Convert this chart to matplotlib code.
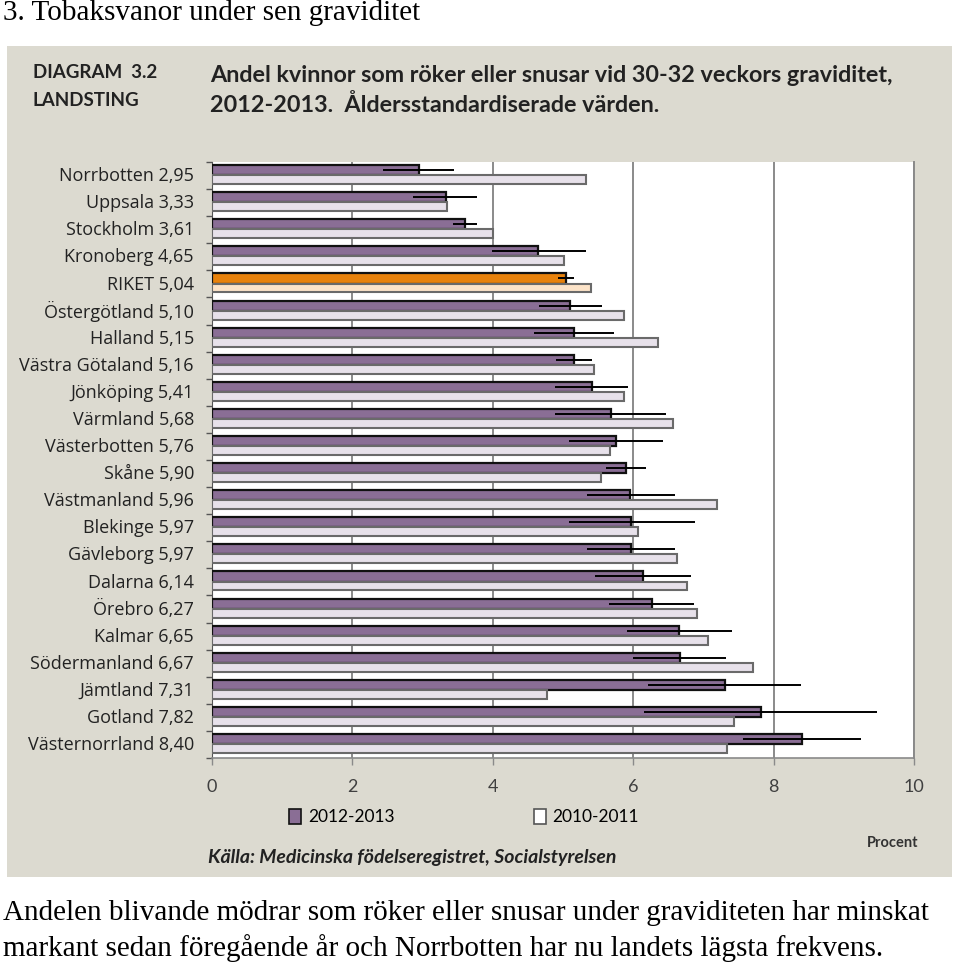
"""
Diagram 3.2 - andel kvinnor som röker eller snusar vid 30-32 veckors graviditet.
Horisontella staplar per landsting, 2012-2013 mot 2010-2011, med konfidensintervall.
"""

import numpy as np
import matplotlib
matplotlib.use("Agg")
import matplotlib.pyplot as plt
from matplotlib.patches import Rectangle, Patch
from matplotlib import font_manager

# --- Data ---
landsting = ["Norrbotten", "Uppsala", "Stockholm", "Kronoberg", "RIKET",
             "Östergötland", "Halland", "Västra Götaland", "Jönköping", "Värmland",
             "Västerbotten", "Skåne", "Västmanland", "Blekinge", "Gävleborg",
             "Dalarna", "Örebro", "Kalmar", "Södermanland", "Jämtland",
             "Gotland", "Västernorrland"]
andel_2012 = [2.95, 3.33, 3.61, 4.65, 5.04, 5.10, 5.15, 5.16, 5.41, 5.68, 5.76,
              5.90, 5.96, 5.97, 5.97, 6.14, 6.27, 6.65, 6.67, 7.31, 7.82, 8.40]
andel_2010 = [5.33, 3.35, 4.00, 5.01, 5.40, 5.87, 6.35, 5.44, 5.87, 6.56, 5.67,
              5.54, 7.19, 6.07, 6.62, 6.77, 6.91, 7.07, 7.71, 4.77, 7.44, 7.34]
ki_lag = [2.44, 2.87, 3.44, 3.99, 4.93, 4.66, 4.59, 4.90, 4.89, 4.89, 5.08,
          5.61, 5.34, 5.08, 5.34, 5.46, 5.66, 5.91, 6.00, 6.21, 6.15, 7.56]
ki_hog = [3.45, 3.78, 3.78, 5.33, 5.16, 5.55, 5.73, 5.41, 5.93, 6.47, 6.43,
          6.18, 6.60, 6.88, 6.60, 6.82, 6.87, 7.41, 7.32, 8.39, 9.47, 9.24]
xticks = [0, 2, 4, 6, 8, 10]


def pick_font(names, default="DejaVu Sans"):
    for n in names:
        try:
            font_manager.findfont(n, fallback_to_default=False)
            return n
        except Exception:
            continue
    return default


sans = pick_font(["Liberation Sans Narrow", "Lato", "Open Sans"])
sans_lbl = pick_font(["Open Sans", "Lato"])
sans_b = pick_font(["Lato", "Open Sans"])
serif = pick_font(["Liberation Serif", "DejaVu Serif"])

W, H = 960, 965
fig = plt.figure(figsize=(W / 100, H / 100), dpi=100)
fig.patch.set_facecolor("white")


def fx(px):
    return px / W


def fy(py):
    return 1 - py / H


# grey chart panel
fig.patches.append(Rectangle((fx(7), fy(877)), fx(952 - 7), (877 - 46) / H,
                             transform=fig.transFigure, facecolor="#DCDAD0",
                             edgecolor="none", zorder=-5))

ax = fig.add_axes([fx(212), fy(758), fx(914 - 212), (758 - 162) / H])
ax.set_zorder(2)
ax.set_facecolor("white")

n = len(landsting)
y = np.arange(n)
purple = "#8A6E95"
lilac = "#E7E1EA"
c12 = [("#E8820C" if l == "RIKET" else purple) for l in landsting]
c10 = [("#FCE3C8" if l == "RIKET" else lilac) for l in landsting]

ax.barh(y - 0.2, andel_2012, height=0.37, color=c12, edgecolor="#111111",
        linewidth=1.6, zorder=3)
ax.barh(y + 0.15, andel_2010, height=0.33, color=c10, edgecolor="#6A6A6A",
        linewidth=1.5, zorder=3)
lo = np.array(andel_2012) - np.array(ki_lag)
hi = np.array(ki_hog) - np.array(andel_2012)
ax.errorbar(andel_2012, y - 0.2, xerr=[lo, hi], fmt="none", ecolor="black",
            elinewidth=1.4, capsize=0, zorder=4)

ax.set_xlim(0, 10)
ax.set_ylim(n - 0.5, -0.5)
ax.set_xticks(xticks)
ax.set_xticklabels([str(v) for v in xticks], fontsize=13, color="#404040",
                   family=sans)
ax.xaxis.grid(True, color="#8A8A8A", linewidth=1.4, zorder=1)
ax.set_axisbelow(True)
ax.tick_params(axis="x", length=5, width=1, color="#8A8A8A", pad=10)

labels = [f"{l} {v:.2f}".replace(".", ",") for l, v in zip(landsting, andel_2012)]
ax.set_yticks(y - 0.05)
ax.set_yticklabels(labels, fontsize=13, color="#222222", family=sans_lbl)
ax.tick_params(axis="y", length=0, pad=13)
ax.set_yticks(np.arange(-0.5, n, 1.0), minor=True)
ax.tick_params(axis="y", which="minor", length=4, width=1, color="#555555")

ax.spines["top"].set_visible(False)
ax.spines["right"].set_color("#8A8A8A")
ax.spines["right"].set_linewidth(1.4)
ax.spines["left"].set_color("#555555")
ax.spines["bottom"].set_color("#8A8A8A")
ax.spines["bottom"].set_linewidth(1.2)

# texts
fig.text(fx(3), fy(13), "3. Tobaksvanor under sen graviditet", family=serif,
         fontsize=21, va="center", ha="left")
fig.text(fx(33), fy(73), "DIAGRAM  3.2", family=sans_b, fontweight="bold",
         fontsize=13.5, va="center", color="#222222")
fig.text(fx(33), fy(101), "LANDSTING", family=sans_b, fontweight="bold",
         fontsize=13.5, va="center", color="#222222")
fig.text(fx(210), fy(75), "Andel kvinnor som röker eller snusar vid 30-32 veckors graviditet,",
         family=sans_b, fontweight="bold", fontsize=16.8, va="center", color="#222222")
fig.text(fx(210), fy(105), "2012-2013.  Åldersstandardiserade värden.",
         family=sans_b, fontweight="bold", fontsize=16.8, va="center", color="#222222")

handles = [Patch(facecolor=purple, edgecolor="#111111", linewidth=1.2),
           Patch(facecolor="white", edgecolor="#555555", linewidth=1.2)]
fig.legend(handles, ["2012-2013", "2010-2011"], loc="center",
           bbox_to_anchor=(fx(464), fy(817)), ncol=2, frameon=False,
           handlelength=0.7, handleheight=1.0, handletextpad=0.4,
           columnspacing=8.0, prop={"family": sans, "size": 12.5})

fig.text(fx(918), fy(843), "Procent", family=sans_b, fontweight="bold",
         fontsize=10.5, ha="right", va="center", color="#333333")
fig.text(fx(208), fy(857), "Källa: Medicinska födelseregistret, Socialstyrelsen",
         family=sans_b, fontweight="bold", style="italic", fontsize=14,
         va="center", color="#222222")

fig.text(fx(3), fy(913),
         "Andelen blivande mödrar som röker eller snusar under graviditeten har minskat",
         family=serif, fontsize=21, va="center", ha="left")
fig.text(fx(3), fy(948),
         "markant sedan föregående år och Norrbotten har nu landets lägsta frekvens.",
         family=serif, fontsize=21, va="center", ha="left")

fig.savefig("out.png", dpi=100)
